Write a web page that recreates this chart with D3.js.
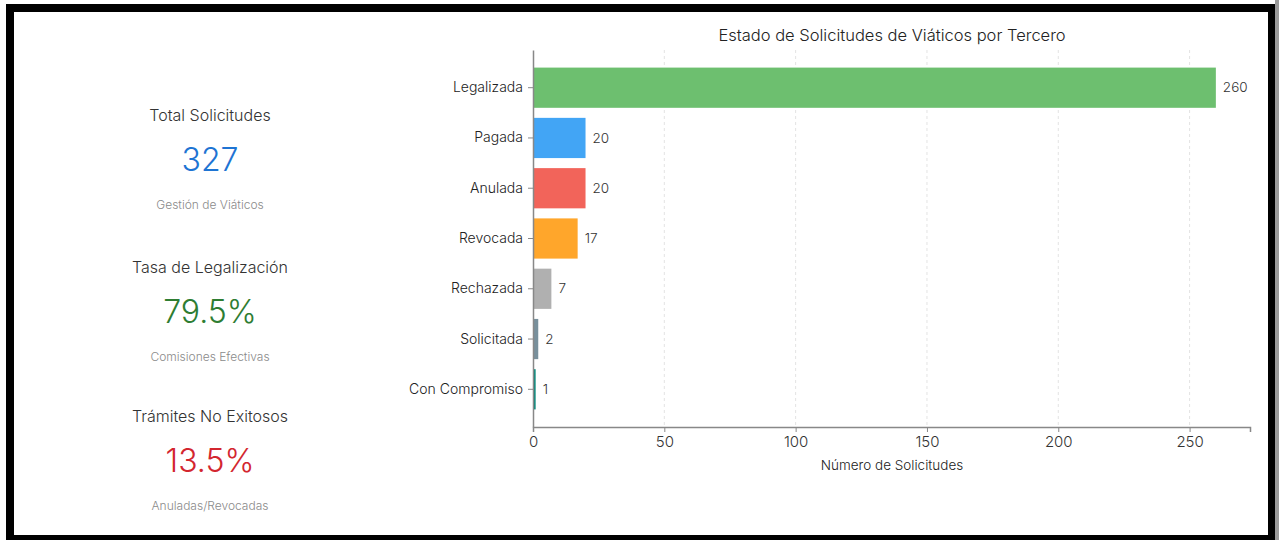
<!DOCTYPE html>
<html><head><meta charset="utf-8">
<script src="https://cdn.jsdelivr.net/npm/d3@7"></script>
<style>
html,body{margin:0;padding:0;background:#fff;}
svg{display:block;}
</style></head>
<body>
<svg id="c" width="1279" height="540"></svg>
<script>
const categories = ["Legalizada","Pagada","Anulada","Revocada","Rechazada","Solicitada","Con Compromiso"];
const values = [260,20,20,17,7,2,1];
const barColors = ["#6dbf6f","#42a5f5","#f2645a","#ffa62b","#b0b0b0","#78909c","#00897b"];
const xTicks = [0,50,100,150,200,250];
const kpiTitles = ["Total Solicitudes","Tasa de Legalización","Trámites No Exitosos"];
const kpiValues = ["327","79.5%","13.5%"];
const kpiCaptions = ["Gestión de Viáticos","Comisiones Efectivas","Anuladas/Revocadas"];
const kpiColors = ["#1e74d3","#2e7d32","#d3262f"];

(function(){
const FONT = "Inter, 'Noto Sans', sans-serif";
const svg = d3.select("#c");

// frame
svg.append("rect").attr("x",0).attr("y",0).attr("width",1279).attr("height",540).attr("fill","#fff");
svg.append("rect").attr("x",1275).attr("y",0).attr("width",4).attr("height",540).attr("fill","#9a9a9a");
svg.append("rect").attr("x",6).attr("y",4).attr("width",1269).attr("height",536).attr("fill","#000");
svg.append("rect").attr("x",14).attr("y",12).attr("width",1254).attr("height",523).attr("fill","#fff");

// KPI panel
const kpiY = [115,267,416];
kpiTitles.forEach((t,i)=>{
  const g = svg.append("g").attr("transform",`translate(210,${kpiY[i]})`);
  g.append("text").attr("text-anchor","middle").attr("dy","0.35em")
    .attr("font-family",FONT).attr("font-size",16).attr("font-weight",300).attr("fill","#333").text(t);
  g.append("text").attr("text-anchor","middle").attr("y",45).attr("dy","0.35em")
    .attr("font-family",FONT).attr("font-size",32).attr("font-weight",300).attr("fill",kpiColors[i]).text(kpiValues[i]);
  g.append("text").attr("text-anchor","middle").attr("y",90).attr("dy","0.35em")
    .attr("font-family",FONT).attr("font-size",12).attr("font-weight",300).attr("fill","#8a8a8a").text(kpiCaptions[i]);
});

// chart
const pL=533, pR=1250, pT=50, pB=427;
const x = d3.scaleLinear().domain([0,273]).range([pL,pR]);
const y = d3.scaleBand().domain(categories).range([pT,pB]).paddingInner(0.2).paddingOuter(0.35);

// grid
svg.append("g").selectAll("line").data(xTicks.filter(d=>d>0)).join("line")
  .attr("x1",d=>x(d)).attr("x2",d=>x(d)).attr("y1",pT).attr("y2",pB)
  .attr("stroke","#e3e3e3").attr("stroke-dasharray","3,3").attr("stroke-width",1);

// bars
svg.append("g").selectAll("rect").data(categories).join("rect")
  .attr("x",x(0)).attr("y",d=>y(d)).attr("height",y.bandwidth())
  .attr("width",(d,i)=>x(values[i])-x(0)).attr("fill",(d,i)=>barColors[i]);

// value labels
svg.append("g").selectAll("text").data(categories).join("text")
  .attr("x",(d,i)=>x(values[i])+7).attr("y",d=>y(d)+y.bandwidth()/2).attr("dy","0.35em")
  .attr("font-family",FONT).attr("font-size",13.5).attr("font-weight",300).attr("fill","#333").text((d,i)=>values[i]);

// axes
const xAxis = svg.append("g").attr("transform",`translate(0,${pB})`)
  .call(d3.axisBottom(x).tickValues(xTicks).tickSize(5).tickPadding(4));
xAxis.select(".domain").attr("stroke","#888").attr("stroke-width",1.5);
xAxis.selectAll(".tick line").attr("stroke","#888");
xAxis.selectAll("text").attr("font-family",FONT).attr("font-size",15).attr("font-weight",300).attr("fill","#333");

const yAxis = svg.append("g").attr("transform",`translate(${pL},0)`)
  .call(d3.axisLeft(y).tickSize(5).tickPadding(5).tickSizeOuter(0));
yAxis.select(".domain").attr("stroke","#888").attr("stroke-width",1.5);
yAxis.selectAll(".tick line").attr("stroke","#888");
yAxis.selectAll("text").attr("font-family",FONT).attr("font-size",14).attr("font-weight",300).attr("fill","#222");

// titles
svg.append("text").attr("x",892).attr("y",35).attr("text-anchor","middle").attr("dy","0.35em")
  .attr("font-family",FONT).attr("font-size",16.5).attr("font-weight",300).attr("fill","#222").text("Estado de Solicitudes de Viáticos por Tercero");
svg.append("text").attr("x",892).attr("y",465).attr("text-anchor","middle").attr("dy","0.35em")
  .attr("font-family",FONT).attr("font-size",13.5).attr("font-weight",300).attr("fill","#222").text("Número de Solicitudes");
})();
</script>
</body></html>
